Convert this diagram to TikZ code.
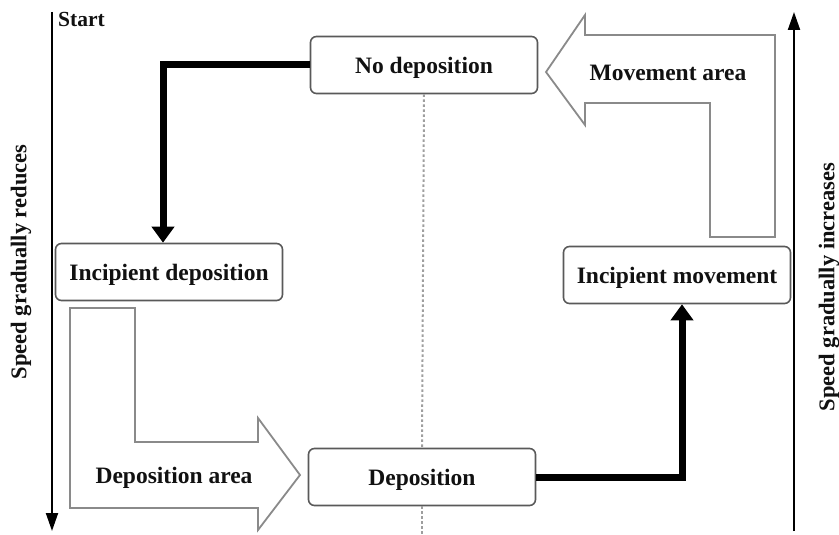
\documentclass[tikz,border=0pt]{standalone}
\usepackage{fontspec}
\setmainfont{Liberation Serif}
\usetikzlibrary{arrows.meta,positioning}
\definecolor{cink}{HTML}{111111}
\definecolor{cedge}{HTML}{595959}
\definecolor{carea}{HTML}{8A8A8A}
\definecolor{cgrid}{HTML}{9E9E9E}
\newcommand\boxfont{\fontsize{23.5}{28}\selectfont\bfseries}
\begin{document}
\begin{tikzpicture}[x=1pt, y=-1pt,
  font=\fontsize{22.5}{27}\selectfont\bfseries,
  stage/.style={draw=cedge, line width=1.6pt, rounded corners=6pt, fill=white, text=cink,
                font=\boxfont, text height=17pt, text depth=0pt,
                minimum width=227pt, minimum height=57pt, inner sep=2pt},
  area/.style={draw=carea, line width=1.8pt, fill=white, line join=miter},
  flow/.style={line width=7pt, black, -{Triangle[length=16pt,width=22pt]}},
  speed/.style={line width=2pt, black, -{Triangle[length=18pt,width=12pt]}},
  guide/.style={cgrid, line width=2pt, dash pattern=on 2.5pt off 2.5pt}]
\useasboundingbox (0,0) rectangle (839,535);
%% big block arrows
\draw[area] (546,72) -- (585,15) -- (585,35) -- (775,35) -- (775,237) -- (710,237)
  -- (710,103) -- (585,103) -- (585,125) -- cycle;
\draw[area] (70,308) -- (135,308) -- (135,442) -- (258,442) -- (258,418) -- (300,475)
  -- (258,530) -- (258,508) -- (70,508) -- cycle;
\node[text=cink, font=\boxfont] (movarea) at (668,73) {Movement area};
\node[text=cink, font=\boxfont] (deparea) at (174,478) {Deposition area};
%% stages
\node[stage] (nodep) at (424,65) {No deposition};
\node[stage] (incdep) at (169,272) {Incipient deposition};
\node[stage] (incmov) at (677,275) {Incipient movement};
\node[stage] (dep) at (422,477) {Deposition};
%% centre line
\coordinate (gbot) at (422,535);
\draw[guide] (nodep.south) -- (dep.north);
\draw[guide] (dep.south) -- (gbot);
%% flow
\draw[flow] (nodep.west) -| ([xshift=-6pt]incdep.north);
\draw[flow] (dep.east) -| ([xshift=5pt]incmov.south);
%% speed axes
\coordinate (ltop) at (52,12);
\coordinate (lbot) at (52,531);
\coordinate (rbot) at (794,531);
\coordinate (rtop) at (794,12);
\draw[speed] (ltop) -- (lbot);
\draw[speed] (rbot) -- (rtop);
\node[text=cink, font=\fontsize{21.5}{26}\selectfont\bfseries, anchor=base west, inner sep=0pt]
  (start) at (58,27) {Start};
\node[text=cink, rotate=90] (slow) at (21,262) {Speed gradually reduces};
\node[text=cink, rotate=90] (fast) at (829,287) {Speed gradually increases};
\end{tikzpicture}
\end{document}
